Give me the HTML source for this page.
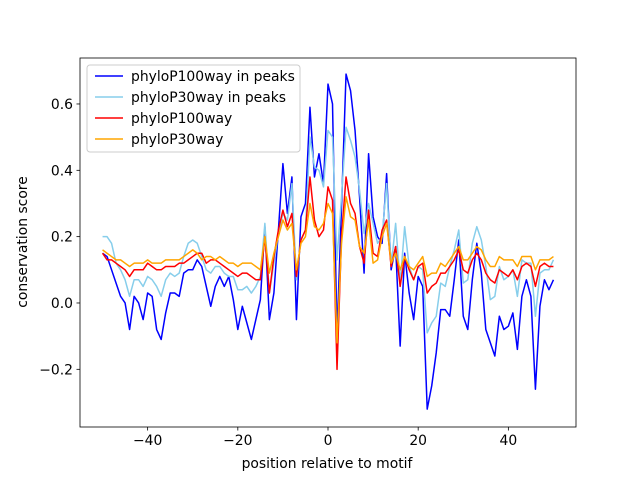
<!DOCTYPE html>
<html><head><meta charset="utf-8"><style>
body{margin:0;background:#fff}
svg text{font-family:"DejaVu Sans","Liberation Sans",sans-serif;font-size:13.9px;fill:#000}
</style></head><body>
<svg id="chart" width="640" height="480" xmlns="http://www.w3.org/2000/svg">
<rect width="640" height="480" fill="#fff"/>
<g id="plot"></g>
<g id="axes"></g>
<text x="327" y="468" text-anchor="middle">position relative to motif</text>
<text transform="translate(27,242) rotate(-90)" text-anchor="middle">conservation score</text>
<g id="legend"></g>
</svg>
<script>
const positions = Array.from({length:101},(_,i)=>i-50);
const blue100Peaks = [0.15,0.14,0.10,0.06,0.02,0.00,-0.08,0.02,0.00,-0.05,0.03,0.02,-0.08,-0.11,-0.03,0.03,0.03,0.02,0.09,0.10,0.10,0.13,0.11,0.05,-0.01,0.05,0.08,0.05,0.08,0.01,-0.08,-0.01,-0.06,-0.11,-0.05,0.01,0.23,-0.05,0.03,0.22,0.42,0.27,0.38,-0.05,0.26,0.30,0.59,0.38,0.45,0.36,0.66,0.60,-0.10,0.29,0.69,0.64,0.52,0.32,0.09,0.45,0.26,0.20,0.18,0.39,0.10,0.17,-0.13,0.15,0.03,-0.05,0.08,0.05,-0.32,-0.25,-0.15,-0.02,-0.02,-0.04,0.07,0.19,-0.04,-0.08,0.07,0.18,0.09,-0.08,-0.12,-0.16,-0.04,-0.08,-0.07,-0.03,-0.14,0.02,0.07,0.02,-0.26,-0.01,0.07,0.04,0.07];
const lightblue30Peaks = [0.20,0.20,0.18,0.12,0.10,0.07,0.02,0.07,0.07,0.05,0.08,0.07,0.05,0.02,0.07,0.09,0.08,0.09,0.14,0.18,0.19,0.18,0.14,0.10,0.09,0.11,0.11,0.09,0.08,0.08,0.04,0.04,0.05,0.03,0.05,0.08,0.24,0.03,0.12,0.21,0.27,0.25,0.36,0.07,0.19,0.22,0.50,0.41,0.40,0.35,0.52,0.50,0.13,0.32,0.53,0.49,0.44,0.34,0.21,0.30,0.24,0.18,0.20,0.36,0.11,0.24,0.06,0.23,0.11,0.07,0.11,0.10,-0.09,-0.06,-0.04,0.06,0.05,0.11,0.16,0.22,0.06,0.07,0.18,0.23,0.19,0.11,0.01,0.02,0.11,0.07,0.08,0.10,0.02,0.13,0.12,0.12,-0.04,0.09,0.10,0.10,0.13];
const red100 = [0.15,0.13,0.13,0.12,0.11,0.10,0.08,0.10,0.10,0.10,0.12,0.11,0.10,0.10,0.11,0.11,0.11,0.12,0.12,0.13,0.14,0.15,0.15,0.12,0.13,0.13,0.12,0.11,0.10,0.09,0.08,0.09,0.09,0.08,0.07,0.07,0.20,0.03,0.14,0.22,0.28,0.23,0.27,0.08,0.19,0.22,0.38,0.25,0.20,0.22,0.35,0.31,-0.20,0.20,0.38,0.30,0.27,0.17,0.12,0.28,0.15,0.14,0.22,0.25,0.11,0.17,0.05,0.14,0.10,0.07,0.11,0.12,0.03,0.05,0.06,0.09,0.09,0.11,0.13,0.16,0.10,0.09,0.13,0.15,0.13,0.09,0.07,0.06,0.10,0.09,0.08,0.10,0.07,0.11,0.12,0.11,0.05,0.11,0.12,0.11,0.11];
const orange30 = [0.16,0.15,0.14,0.13,0.13,0.12,0.11,0.12,0.12,0.12,0.13,0.12,0.12,0.12,0.13,0.13,0.13,0.13,0.14,0.15,0.16,0.15,0.13,0.14,0.14,0.13,0.14,0.13,0.12,0.12,0.11,0.12,0.12,0.12,0.11,0.10,0.20,0.09,0.15,0.20,0.25,0.22,0.24,0.10,0.18,0.20,0.30,0.23,0.22,0.24,0.30,0.27,-0.12,0.18,0.32,0.26,0.25,0.17,0.15,0.25,0.12,0.13,0.20,0.24,0.12,0.15,0.10,0.14,0.11,0.10,0.12,0.14,0.08,0.09,0.09,0.12,0.11,0.13,0.15,0.17,0.13,0.13,0.15,0.17,0.16,0.13,0.11,0.11,0.14,0.13,0.13,0.13,0.11,0.14,0.14,0.14,0.10,0.13,0.13,0.13,0.14];
const xTicks = [-40,-20,0,20,40];
const yTicks = [-0.2,0.0,0.2,0.4,0.6];
const yTickLabels = ["\u22120.2","0.0","0.2","0.4","0.6"];
const seriesNames = ["phyloP100way in peaks","phyloP30way in peaks","phyloP100way","phyloP30way"];
const seriesColors = ["#0000ff","#87ceeb","#ff0000","#ffa500"];

const L=80,R=576,T=58,B=427, xMin=-55,xMax=55, yMin=-0.3739,yMax=0.7386;
const sx=v=>L+(v-xMin)/(xMax-xMin)*(R-L);
const sy=v=>B-(v-yMin)/(yMax-yMin)*(B-T);
const NS="http://www.w3.org/2000/svg";
function mk(tag,attrs,parent){const e=document.createElementNS(NS,tag);for(const k in attrs)e.setAttribute(k,attrs[k]);parent.appendChild(e);return e;}
const plot=document.getElementById('plot'), axes=document.getElementById('axes'), legend=document.getElementById('legend');
const allSeries=[blue100Peaks,lightblue30Peaks,red100,orange30];
const slugs=["phylop100way-peaks-line","phylop30way-peaks-line","phylop100way-line","phylop30way-line"];
allSeries.forEach((s,i)=>{
  const p=mk('polyline',{points:s.map((v,j)=>sx(positions[j]).toFixed(2)+','+sy(v).toFixed(2)).join(' '),fill:'none',stroke:seriesColors[i],'stroke-width':1.5,'stroke-linejoin':'round'},plot);
  
  
});
const frame=mk('rect',{x:L,y:T,width:R-L,height:B-T,fill:'none',stroke:'#000','stroke-width':0.8},axes);


xTicks.forEach(t=>{
  const x=sx(t);
  mk('line',{x1:x,x2:x,y1:B,y2:B+3.5,stroke:'#000','stroke-width':0.8},axes);
  const tx=mk('text',{x:x,y:B+18,'text-anchor':'middle'},axes);
  tx.textContent=t<0?'\u2212'+(-t):String(t);
  
  
});
yTicks.forEach((t,i)=>{
  const y=sy(t);
  mk('line',{x1:L-3.5,x2:L,y1:y,y2:y,stroke:'#000','stroke-width':0.8},axes);
  const tx=mk('text',{x:L-7,y:y+5,'text-anchor':'end'},axes);
  tx.textContent=yTickLabels[i];
  
  
});
const box=mk('rect',{x:87,y:65,width:213,height:87,rx:3,fill:'#fff','fill-opacity':0.8,stroke:'#ccc','stroke-width':1},legend);


seriesNames.forEach((n,i)=>{
  const y=76+i*21;
  const g=mk('g',{},legend);
  
  
  mk('line',{x1:95,x2:123,y1:y,y2:y,stroke:seriesColors[i],'stroke-width':1.5},g);
  const tx=mk('text',{x:131,y:y+5},g);
  tx.textContent=n;
});
</script>
</body></html>
